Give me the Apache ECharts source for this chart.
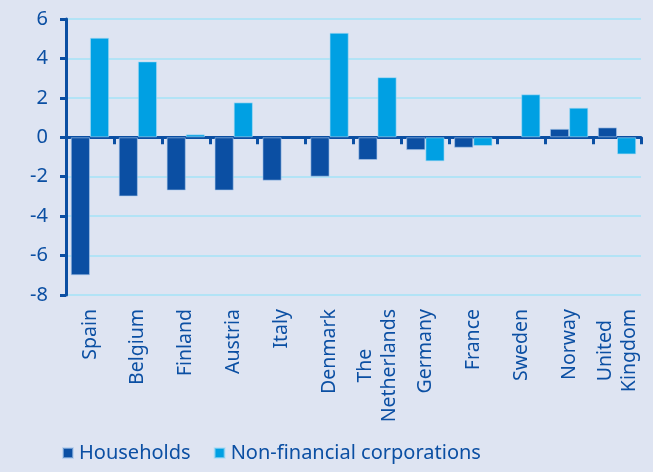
<!DOCTYPE html>
<html>
<head>
<meta charset="utf-8">
<script src="https://cdn.jsdelivr.net/npm/echarts@6/dist/echarts.min.js"></script>
<style>
  html, body { margin: 0; padding: 0; background: #dee4f2; }
  #container0 { width: 653px; height: 472px; }
</style>
</head>
<body>
<div id="container0"></div>
<script>
var countries = ['Spain', 'Belgium', 'Finland', 'Austria', 'Italy', 'Denmark', 'The\nNetherlands',
    'Germany', 'France', 'Sweden', 'Norway', 'United\nKingdom'];
var households = [-7.0, -3.0, -2.7, -2.7, -2.2, -2.0, -1.15, -0.65, -0.53, null, 0.43, 0.5];
var corporations = [5.05, 3.85, 0.15, 1.77, null, 5.3, 3.05, -1.22, -0.44, 2.18, 1.5, -0.87];
var yTicks = [-8, 6, 2];

var dark = '#0b4fa3';
var light = '#00a0e3';
var font = 'Noto Sans';

var opt_chart_0 = {
    backgroundColor: '#dee4f2',
    animation: false,
    textStyle: { fontFamily: font },
    grid: {
        left: 66,
        right: 12,
        top: 19,
        bottom: 177
    },
    legend: {
        left: 57,
        top: 438,
        itemWidth: 10,
        itemHeight: 10,
        itemGap: 23,
        icon: 'rect',
        textStyle: { color: dark, fontSize: 20, fontFamily: font, padding: [0, 0, 0, 1] },
        data: ['Households', 'Non-financial corporations']
    },
    xAxis: [
        {
            type: 'category',
            data: countries,
            position: 'bottom',
            axisLine: { show: false, onZero: false },
            axisTick: { show: false },
            axisLabel: {
                rotate: 90,
                interval: 0,
                margin: 14,
                color: dark,
                fontSize: 19.5,
                fontFamily: font,
                lineHeight: 24,
                formatter: function (v) {
                    return v.split('\n').map(function (s) { return '{c|' + s + '}'; }).join('\n');
                },
                rich: {
                    c: { align: 'center', color: dark, fontSize: 19.5, fontFamily: font, lineHeight: 24 }
                }
            }
        },
        {
            type: 'category',
            data: countries,
            position: 'top',
            axisLine: { show: true, onZero: true, lineStyle: { color: dark, width: 3 } },
            axisTick: { show: true, inside: true, interval: 0, length: 7, lineStyle: { color: dark, width: 3 } },
            axisLabel: { show: false }
        }
    ],
    yAxis: {
        type: 'value',
        min: yTicks[0],
        max: yTicks[1],
        interval: yTicks[2],
        axisLine: { show: true, lineStyle: { color: dark, width: 3 } },
        axisTick: { show: true, length: 6, lineStyle: { color: dark, width: 3 } },
        axisLabel: { color: dark, fontSize: 20, fontFamily: font, margin: 18 },
        splitLine: { lineStyle: { color: '#b2e3f6', width: 2 } }
    },
    series: [
        {
            name: 'Households',
            type: 'bar',
            xAxisIndex: 0,
            data: households,
            barGap: '0%',
            barCategoryGap: '20%',
            itemStyle: { color: dark, borderColor: 'rgba(170,200,235,0.6)', borderWidth: 1 }
        },
        {
            name: 'Non-financial corporations',
            type: 'bar',
            xAxisIndex: 0,
            data: corporations,
            barGap: '0%',
            barCategoryGap: '20%',
            itemStyle: { color: light, borderColor: 'rgba(170,220,245,0.6)', borderWidth: 1 }
        }
    ]
};

var chart_0 = echarts.init(document.getElementById('container0'));
chart_0.setOption(opt_chart_0);
</script>
</body>
</html>
